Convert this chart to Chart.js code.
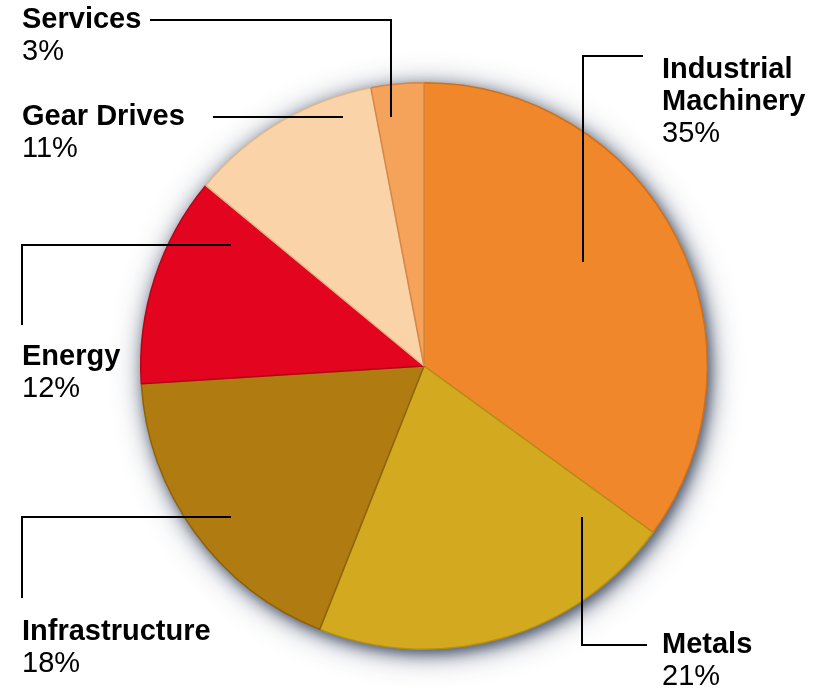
<!DOCTYPE html>
<html>
<head>
<meta charset="utf-8">
<title>Sales by sector</title>
<script src="https://cdn.jsdelivr.net/npm/chart.js@4.4.1/dist/chart.umd.min.js"></script>
<style>
html, body { margin: 0; padding: 0; background: #fff; }
#wrap { width: 813px; height: 689px; }
</style>
</head>
<body>
<div id="wrap"><canvas id="sectorChart" width="813" height="689"></canvas></div>
<script>
// sectors, clockwise from 12 o'clock
const sectors = ["Industrial Machinery", "Metals", "Infrastructure", "Energy", "Gear Drives", "Services"];
const shares = [35, 21, 18, 12, 11, 3];
const fills = ["#f0882b", "#d3a91f", "#b07b10", "#e30520", "#fad4a8", "#f5a35b"];
const edges = ["#d0701a", "#b38f12", "#8f6309", "#b80317", "#e0b88a", "#d88744"];

// callout placement: text anchor (first line middle) and leader polyline
const callouts = [
  { x: 662, y: 70,  wrap: true,  line: [[583, 262], [583, 56], [643, 56]] },
  { x: 662, y: 645, wrap: false, line: [[582, 517], [582, 645], [647, 645]] },
  { x: 22,  y: 632, wrap: false, line: [[231, 517], [22, 517], [22, 598]] },
  { x: 22,  y: 357, wrap: false, line: [[231, 245], [22, 245], [22, 325]] },
  { x: 22,  y: 117, wrap: false, line: [[343, 117], [213, 117]] },
  { x: 22,  y: 20,  wrap: false, line: [[391, 117], [391, 20], [150, 20]] }
];

// soft halo behind the pie (painted twice so it reads darker)
const pieShadow = {
  id: "pieShadow",
  beforeDatasetsDraw(chart) {
    const arc = chart.getDatasetMeta(0).data[0];
    if (!arc) return;
    const ctx = chart.ctx;
    ctx.save();
    ctx.fillStyle = "#fff";
    [[30, 0.7], [14, 0.8]].forEach(([blur, alpha]) => {
      ctx.shadowColor = "rgba(45,58,85," + alpha + ")";
      ctx.shadowBlur = blur;
      ctx.shadowOffsetX = 3;
      ctx.shadowOffsetY = 4;
      ctx.beginPath();
      ctx.arc(arc.x, arc.y, arc.outerRadius - 1, 0, Math.PI * 2);
      ctx.fill();
    });
    ctx.restore();
  }
};

const calloutLabels = {
  id: "calloutLabels",
  afterDatasetsDraw(chart) {
    const ctx = chart.ctx;
    ctx.save();
    ctx.strokeStyle = "#000";
    ctx.lineWidth = 2;
    ctx.fillStyle = "#000";
    ctx.textAlign = "left";
    ctx.textBaseline = "middle";
    sectors.forEach((name, i) => {
      const c = callouts[i];
      ctx.beginPath();
      c.line.forEach((p, k) => k ? ctx.lineTo(p[0], p[1]) : ctx.moveTo(p[0], p[1]));
      ctx.stroke();

      const rows = c.wrap ? name.split(" ") : [name];
      ctx.font = "bold 29px 'Liberation Sans', Arial, sans-serif";
      rows.forEach((r, k) => ctx.fillText(r, c.x, c.y + k * 32));
      ctx.font = "29px 'Liberation Sans', Arial, sans-serif";
      ctx.fillText(shares[i] + "%", c.x, c.y + rows.length * 32);
    });
    ctx.restore();
  }
};

new Chart(document.getElementById("sectorChart"), {
  type: "pie",
  data: {
    labels: sectors,
    datasets: [{
      data: shares,
      backgroundColor: fills,
      borderColor: edges,
      borderWidth: 1.5
    }]
  },
  options: {
    responsive: false,
    animation: false,
    events: [],
    layout: { padding: { left: 140, right: 105, top: 82, bottom: 39 } },
    plugins: {
      legend: { display: false },
      tooltip: { enabled: false }
    }
  },
  plugins: [pieShadow, calloutLabels]
});
</script>
</body>
</html>
